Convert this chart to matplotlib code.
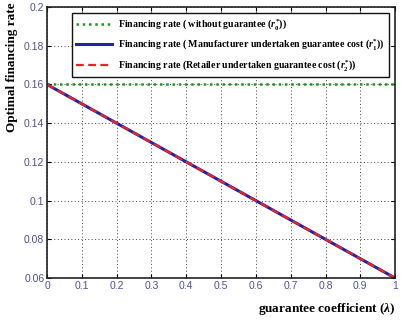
import matplotlib
matplotlib.use("Agg")
import matplotlib.pyplot as plt

# guarantee coefficient and financing rates
lam = [0.0, 1.0]
rate_no_guarantee = [0.16, 0.16]
rate_manufacturer = [0.16, 0.06]
rate_retailer = [0.16, 0.06]

xticks = [0, 0.1, 0.2, 0.3, 0.4, 0.5, 0.6, 0.7, 0.8, 0.9, 1]
xtick_labels = ["0", "0.1", "0.2", "0.3", "0.4", "0.5", "0.6", "0.7", "0.8", "0.9", "1"]
yticks = [0.06, 0.08, 0.1, 0.12, 0.14, 0.16, 0.18, 0.2]
ytick_labels = ["0.06", "0.08", "0.1", "0.12", "0.14", "0.16", "0.18", "0.2"]

plt.rcParams["mathtext.fontset"] = "custom"
plt.rcParams["mathtext.rm"] = "Liberation Serif:bold"
plt.rcParams["mathtext.it"] = "Liberation Serif:bold:italic"
plt.rcParams["mathtext.bf"] = "Liberation Serif:bold"

tick_color = "#50509a"

fig = plt.figure(figsize=(4.02, 3.2), dpi=100)
ax = fig.add_axes([0.117, 0.131, 0.866, 0.847])

ax.plot(lam, rate_no_guarantee, color="#1a9a1a", linestyle=(0, (1, 1.5)), linewidth=1.8,
        label=r"Financing rate ( without guarantee ($r_0^{*}$))")
ax.plot(lam, rate_manufacturer, color="#2222aa", linestyle="-", linewidth=2.2,
        label=r"Financing rate ( Manufacturer undertaken guarantee cost ($r_1^{*}$))")
ax.plot(lam, rate_retailer, color="#ee2222", linestyle=(0, (3.5, 2)), linewidth=1.6,
        label=r"Financing rate (Retailer undertaken guarantee cost ($r_2^{*}$))")

ax.set_xlim(0, 1)
ax.set_ylim(0.06, 0.2)
ax.set_xticks(xticks)
ax.set_xticklabels(xtick_labels, fontsize=7.5, color=tick_color, family="Liberation Sans")
ax.set_yticks(yticks)
ax.set_yticklabels(ytick_labels, fontsize=7.5, color=tick_color, family="Liberation Sans")
ax.tick_params(direction="in", length=3, width=0.8, top=True, right=True, pad=2)
ax.grid(True, color="#444444", linestyle=(0, (1, 2.5)), linewidth=0.7)
for s in ax.spines.values():
    s.set_linewidth(1.2)
    s.set_color("#222222")

fig.text(0.03, 0.79, "Optimal financing rate", rotation=90, ha="center", va="center",
         fontsize=9.5, fontweight="bold", family="Liberation Serif")
ax.set_xlabel(r"guarantee coefficient ($\lambda$)",
              fontsize=9.5, fontweight="bold", family="Liberation Serif", loc="right", labelpad=7)

leg = ax.legend(loc="upper right", bbox_to_anchor=(0.996, 0.996),
                prop={"family": "Liberation Serif", "weight": "bold", "size": 7.1},
                frameon=True, fancybox=False, edgecolor="#111111", framealpha=1,
                handlelength=3.6, handletextpad=0.6, borderpad=0.45, labelspacing=0.58)
leg.get_frame().set_linewidth(1.0)

fig.savefig("out.png", dpi=100)
